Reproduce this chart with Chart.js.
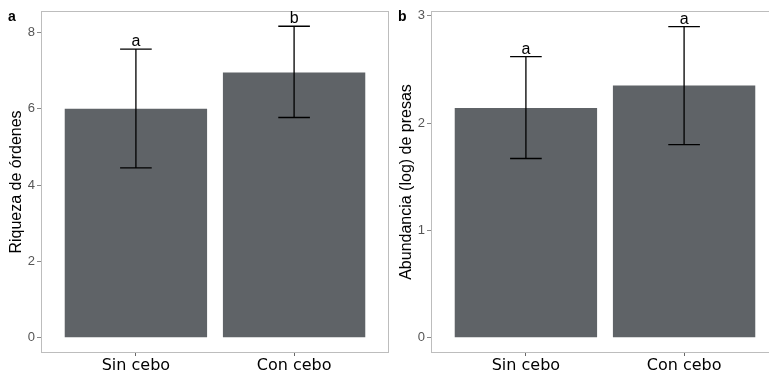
<!DOCTYPE html>
<html lang="es">
<head>
  <meta charset="UTF-8" />
  <title>Riqueza y abundancia</title>
  <script src="https://cdn.jsdelivr.net/npm/chart.js"></script>
  <style>
    html, body { margin: 0; padding: 0; background: #fff; overflow: hidden; width: 769px; height: 373px; }
    canvas { position: absolute; top: 0; }
    #panelA { left: 0; }
    #panelB { left: 390px; }
  </style>
</head>
<body>
  <canvas id="panelA" width="390" height="373"></canvas>
  <canvas id="panelB" width="390" height="373"></canvas>

  <script>
    const categorias = ['Sin cebo', 'Con cebo'];

    const riqueza = [6.0, 6.95];
    const riquezaInf = [4.45, 5.77];
    const riquezaSup = [7.56, 8.16];
    const letrasRiqueza = ['a', 'b'];
    const ticksRiqueza = [0, 2, 4, 6, 8];

    const abundancia = [2.14, 2.35];
    const abundanciaInf = [1.67, 1.80];
    const abundanciaSup = [2.62, 2.90];
    const letrasAbundancia = ['a', 'a'];
    const ticksAbundancia = [0, 1, 2, 3];

    const arial = '"Liberation Sans", Arial, sans-serif';
    const verdana = '"DejaVu Sans", Verdana, sans-serif';

    function crearPanel(id, etiqueta, titulo, valores, inf, sup, letras, ticks, yMin, yMax) {
      // barras de error, letras y borde del panel
      const extras = {
        id: 'extras',
        afterDatasetsDraw(chart) {
          const { ctx, chartArea: a, scales: { x, y } } = chart;
          ctx.save();
          ctx.strokeStyle = '#bdbdbd';
          ctx.lineWidth = 1;
          ctx.strokeRect(Math.round(a.left) + 0.5, Math.round(a.top) + 0.5,
                         Math.round(a.right - a.left) - 1, Math.round(a.bottom - a.top) - 1);

          const mitad = x.getPixelForValue(1.1) - x.getPixelForValue(1);
          ctx.strokeStyle = '#000';
          ctx.lineWidth = 1.3;
          ctx.fillStyle = '#000';
          ctx.font = '16px ' + arial;
          ctx.textAlign = 'center';
          ctx.textBaseline = 'alphabetic';
          valores.forEach((v, i) => {
            const px = x.getPixelForValue(i + 1);
            const yS = y.getPixelForValue(sup[i]);
            const yI = y.getPixelForValue(inf[i]);
            ctx.beginPath();
            ctx.moveTo(px, yS); ctx.lineTo(px, yI);
            ctx.moveTo(px - mitad, yS); ctx.lineTo(px + mitad, yS);
            ctx.moveTo(px - mitad, yI); ctx.lineTo(px + mitad, yI);
            ctx.stroke();
            ctx.fillText(letras[i], px, yS - 3);
          });

          ctx.font = 'bold 14px ' + arial;
          ctx.textAlign = 'left';
          ctx.fillText(etiqueta, 8, 21);
          ctx.restore();
        }
      };

      return new Chart(document.getElementById(id), {
        type: 'bar',
        data: {
          datasets: [{
            data: valores.map((v, i) => ({ x: i + 1, y: v })),
            backgroundColor: '#5f6367',
            borderWidth: 0,
            barPercentage: 0.9,
            categoryPercentage: 1
          }]
        },
        options: {
          responsive: false,
          animation: false,
          layout: { padding: { top: 11, right: 1, left: 0, bottom: 0 } },
          plugins: { legend: { display: false }, tooltip: { enabled: false } },
          scales: {
            x: {
              type: 'linear', min: 0.4, max: 2.6, offset: false,
              afterBuildTicks: s => { s.ticks = categorias.map((c, i) => ({ value: i + 1 })); },
              ticks: {
                callback: v => categorias[v - 1],
                color: '#000', font: { family: verdana, size: 16 },
                padding: 0, maxRotation: 0, autoSkip: false
              },
              grid: { drawOnChartArea: false, offset: false, tickLength: 3, color: '#666' },
              border: { display: false },
              afterFit: s => { s.height = 20; }
            },
            y: {
              min: yMin, max: yMax,
              afterBuildTicks: s => { s.ticks = ticks.map(v => ({ value: v })); },
              ticks: { color: '#555', font: { family: arial, size: 13 }, padding: 2 },
              grid: { drawOnChartArea: false, tickLength: 4, color: '#888' },
              border: { display: false },
              title: {
                display: true, text: titulo, color: '#000',
                font: { family: arial, size: 16 },
                padding: { top: 7, bottom: 0 }
              },
              afterFit: s => { s.width = 41; }
            }
          }
        },
        plugins: [extras]
      });
    }

    crearPanel('panelA', 'a', 'Riqueza de órdenes', riqueza, riquezaInf, riquezaSup,
               letrasRiqueza, ticksRiqueza, -0.40, 8.56);
    crearPanel('panelB', 'b', 'Abundancia (log) de presas', abundancia, abundanciaInf, abundanciaSup,
               letrasAbundancia, ticksAbundancia, -0.143, 3.045);
  </script>
</body>
</html>
